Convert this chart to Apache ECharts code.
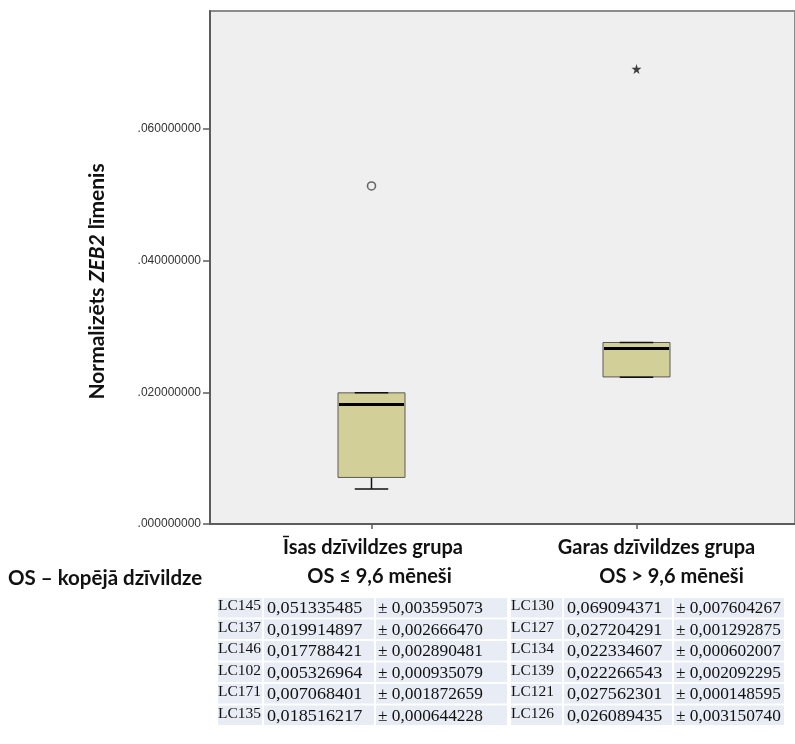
<!DOCTYPE html>
<html>
<head>
<meta charset="utf-8">
<script src="https://cdn.jsdelivr.net/npm/echarts@6/dist/echarts.min.js"></script>
<style>
  html, body { margin: 0; padding: 0; background: #ffffff; }
  #chart { width: 795px; height: 744px; }
</style>
</head>
<body>
<div id="chart"></div>
<script>
// ZEB2 expression per patient, grouped by overall survival
const categories = ['Īsas dzīvildzes grupa', 'Garas dzīvildzes grupa'];
const subtitles = ['OS ≤ 9,6 mēneši', 'OS > 9,6 mēneši'];

const shortIds = ['LC145', 'LC137', 'LC146', 'LC102', 'LC171', 'LC135'];
const shortValues = [0.051335485, 0.019914897, 0.017788421, 0.005326964, 0.007068401, 0.018516217];
const shortErrors = [0.003595073, 0.002666470, 0.002890481, 0.000935079, 0.001872659, 0.000644228];

const longIds = ['LC130', 'LC127', 'LC134', 'LC139', 'LC121', 'LC126'];
const longValues = [0.069094371, 0.027204291, 0.022334607, 0.022266543, 0.027562301, 0.026089435];
const longErrors = [0.007604267, 0.001292875, 0.000602007, 0.002092295, 0.000148595, 0.003150740];

const yTicks = [0, 0.02, 0.04, 0.06];
const yMax = 0.0779;

const footLabel = 'OS – kopējā dzīvildze';

// Tukey hinges + 1.5/3 IQR fences
function tukeyStats(values) {
  const s = values.slice().sort((a, b) => a - b);
  const n = s.length;
  const med = (arr) => {
    const m = arr.length;
    return m % 2 ? arr[(m - 1) / 2] : (arr[m / 2 - 1] + arr[m / 2]) / 2;
  };
  const half = Math.floor((n + 1) / 2);
  const q1 = med(s.slice(0, half));
  const q3 = med(s.slice(n - half));
  const median = med(s);
  const iqr = q3 - q1;
  const inner = [q1 - 1.5 * iqr, q3 + 1.5 * iqr];
  const outer = [q1 - 3 * iqr, q3 + 3 * iqr];
  const inside = s.filter(v => v >= inner[0] && v <= inner[1]);
  const outliers = s.filter(v => (v < inner[0] || v > inner[1]) && v >= outer[0] && v <= outer[1]);
  const extremes = s.filter(v => v < outer[0] || v > outer[1]);
  return {
    low: inside[0], q1, median, q3, high: inside[inside.length - 1],
    outliers, extremes
  };
}

const groups = [shortValues, longValues].map(tukeyStats);
const boxData = groups.map((g, i) => [i, g.low, g.q1, g.median, g.q3, g.high]);
const outlierData = [];
const extremeData = [];
groups.forEach((g, i) => {
  g.outliers.forEach(v => outlierData.push([i, v]));
  g.extremes.forEach(v => extremeData.push([i, v]));
});

const BOX_W = 67;
function renderBox(params, api) {
  const x = api.value(0);
  const pLow = api.coord([x, api.value(1)]);
  const pQ1 = api.coord([x, api.value(2)]);
  const pMed = api.coord([x, api.value(3)]);
  const pQ3 = api.coord([x, api.value(4)]);
  const pHigh = api.coord([x, api.value(5)]);
  const cx = pQ1[0];
  const hw = BOX_W / 2;
  const cap = BOX_W / 4;
  const stroke = { stroke: '#111', lineWidth: 1.5 };
  return {
    type: 'group',
    children: [
      { type: 'line', shape: { x1: cx, y1: pQ1[1], x2: cx, y2: pLow[1] }, style: stroke },
      { type: 'line', shape: { x1: cx, y1: pQ3[1], x2: cx, y2: pHigh[1] }, style: stroke },
      { type: 'rect', shape: { x: cx - hw, y: pQ3[1], width: BOX_W, height: pQ1[1] - pQ3[1] },
        style: { fill: '#d3cf98', stroke: '#5a5a5a', lineWidth: 1 } },
      { type: 'line', shape: { x1: cx - cap, y1: pLow[1], x2: cx + cap, y2: pLow[1] }, style: stroke },
      { type: 'line', shape: { x1: cx - cap, y1: pHigh[1], x2: cx + cap, y2: pHigh[1] }, style: stroke },
      { type: 'line', shape: { x1: cx - hw + 1, y1: pMed[1], x2: cx + hw - 1, y2: pMed[1] },
        style: { stroke: '#000', lineWidth: 3 } }
    ]
  };
}

// Table of individual measurements under the chart
const TABLE_TOP = 597;
const ROW_H = 21.5;
const tableCols = [
  { ids: shortIds, values: shortValues, errors: shortErrors, edges: [217, 263, 375, 508] },
  { ids: longIds, values: longValues, errors: longErrors, edges: [510, 563, 673, 785] }
];
const cellInset = [1, 4, 3];
const cellScale = [1, 1.1, 1.05];
const cellFont = ['15.5px', '16.5px', '16.5px'];
const fmt = v => v.toFixed(9).replace('.', ',');
const tableGraphics = [];
tableCols.forEach(t => {
  t.ids.forEach((id, r) => {
    const y = TABLE_TOP + r * ROW_H;
    const texts = [id, fmt(t.values[r]), '± ' + fmt(t.errors[r])];
    for (let c = 0; c < 3; c++) {
      const x0 = t.edges[c], x1 = t.edges[c + 1];
      tableGraphics.push({
        type: 'rect',
        shape: { x: x0 + 1, y: y + 1, width: x1 - x0 - 2, height: ROW_H - 2 },
        style: { fill: '#e8ecf4' }, silent: true
      });
      tableGraphics.push({
        type: 'text',
        x: x0 + cellInset[c], y: y + ROW_H / 2 + (c === 0 ? -1.5 : 1),
        scaleX: cellScale[c],
        style: {
          text: texts[c], fill: '#111',
          font: cellFont[c] + ' "Liberation Serif", serif',
          verticalAlign: 'middle', align: 'left'
        }, silent: true
      });
    }
  });
});

const headFont = '"Lato", "Open Sans", sans-serif';
const headStyle = (pad) => ({
  fontFamily: headFont, fontWeight: 'bold', fontSize: 20, lineHeight: 29,
  color: '#111', padding: [0, 0, 0, pad]
});

const chart = echarts.init(document.getElementById('chart'), null, { renderer: 'canvas' });
chart.setOption({
  animation: false,
  backgroundColor: '#ffffff',
  grid: [
    { left: 210, top: 11, right: -10, bottom: 220, show: true, backgroundColor: '#efefef',
      borderColor: '#8c8c8c', borderWidth: 2, containLabel: false },
    { left: 239, top: 11, right: 26, bottom: 220, show: false, containLabel: false }
  ],
  xAxis: [
    { gridIndex: 0, type: 'value', min: 0, max: 1, show: true,
      axisLine: { show: true, lineStyle: { color: '#5c5c5c', width: 2 } },
      axisTick: { show: false }, axisLabel: { show: false }, splitLine: { show: false } },
    { gridIndex: 1, type: 'category', data: categories, boundaryGap: true,
      axisLine: { show: false },
      axisTick: { show: true, alignWithLabel: true, length: 5, lineStyle: { color: '#5c5c5c', width: 1.5 } },
      axisLabel: {
        margin: 9, interval: 0,
        formatter: (v, i) => '{a' + i + '|' + v + '}\n{b' + i + '|' + subtitles[i] + '}',
        rich: {
          a0: headStyle(3), b0: headStyle(16), a1: headStyle(40), b1: headStyle(70)
        }
      } }
  ],
  yAxis: [
    { gridIndex: 0, type: 'value', min: 0, max: yMax,
      axisLine: { show: true, lineStyle: { color: '#5c5c5c', width: 2 } },
      axisTick: { show: true, length: 7, customValues: yTicks, lineStyle: { color: '#5c5c5c', width: 1.5 } },
      axisLabel: { show: true, customValues: yTicks, margin: 9, color: '#333',
        fontFamily: '"Liberation Sans", Arial, sans-serif', fontSize: 12,
        formatter: v => '.' + v.toFixed(9).split('.')[1] },
      splitLine: { show: false },
      name: '{n|Normalizēts }{i|ZEB2}{n| līmenis}',
      nameLocation: 'middle', nameGap: 102,
      nameTextStyle: {
        padding: [0, 28, 0, 0],
        rich: {
          n: { fontFamily: headFont, fontWeight: 'bold', fontSize: 21, color: '#111' },
          i: { fontFamily: headFont, fontWeight: 'bold', fontStyle: 'italic', fontSize: 21, color: '#111' }
        }
      } },
    { gridIndex: 1, type: 'value', min: 0, max: yMax, show: false }
  ],
  series: [
    { type: 'custom', xAxisIndex: 1, yAxisIndex: 1, data: boxData,
      encode: { x: 0, y: [1, 2, 3, 4, 5] }, renderItem: renderBox, z: 3 },
    { type: 'scatter', xAxisIndex: 1, yAxisIndex: 1, data: outlierData,
      symbol: 'circle', symbolSize: 8,
      itemStyle: { color: 'transparent', borderColor: '#444', borderWidth: 1.6 }, z: 4 },
    { type: 'scatter', xAxisIndex: 1, yAxisIndex: 1, data: extremeData,
      symbol: 'path://M50,0 L61,35 L98,35 L68,57 L79,91 L50,70 L21,91 L32,57 L2,35 L39,35 Z',
      symbolSize: 10, itemStyle: { color: '#111' }, z: 4 }
  ],
  graphic: [
    { type: 'text', x: 8, y: 578,
      style: { text: footLabel, font: 'bold 20.5px ' + headFont, fill: '#111', verticalAlign: 'middle' } }
  ].concat(tableGraphics)
});
</script>
</body>
</html>
